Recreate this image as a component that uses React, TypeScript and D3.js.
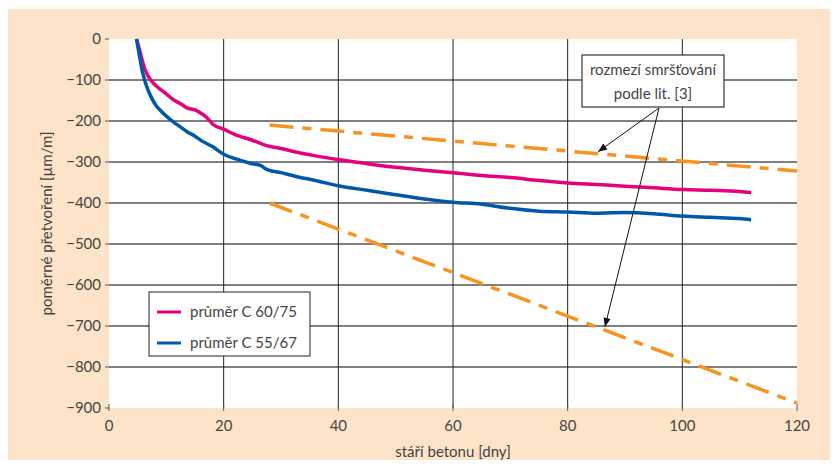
import * as d3 from "d3";
import React from "react";

const width = 838;
const height = 468;
const margin = { top: 39, right: 41, bottom: 60, left: 109 };

// stáří betonu [dny] vs. poměrné přetvoření [µm/m]
const pinkX = [4.8, 5.3, 5.8, 6.3, 6.8, 7.4, 8.2, 8.9, 10, 11.2, 12.5, 13.6, 15, 15.9, 17, 18.1, 20, 22, 25, 27.5, 30, 33, 36, 40, 45, 50, 55, 60, 65, 70, 75, 80, 85, 90, 95, 100, 105, 110, 112];
const pinkY = [0, -25, -52, -75, -90, -102, -114, -122, -134, -148, -158, -168, -173, -180, -191, -208, -220, -233, -247, -260, -267, -277, -285, -294, -304, -313, -320, -326, -333, -338, -345, -351, -355, -359, -363, -367, -369, -372, -375];

const blueX = [4.8, 5.3, 5.8, 6.3, 6.8, 7.4, 8.2, 8.9, 10, 11.2, 12.5, 13.6, 15, 15.9, 18.1, 20, 22, 24.6, 26.5, 27.5, 30, 32.8, 36, 40, 45, 50, 55, 60, 65, 70, 75, 80, 85, 90, 95, 100, 105, 110, 112];
const blueY = [0, -40, -78, -104, -124, -143, -162, -173, -188, -202, -215, -226, -237, -246, -263, -281, -292, -303, -309, -318, -326, -336, -345, -358, -369, -380, -390, -398, -403, -413, -420, -422, -425, -423, -426, -432, -435, -438, -441];

const upperX = [28, 120];
const upperY = [-210, -322];
const lowerX = [28, 120];
const lowerY = [-400, -888];

const xTicks = [0, 20, 40, 60, 80, 100, 120];
const yTicks = [0, -100, -200, -300, -400, -500, -600, -700, -800, -900];

const pink = "#e5007d";
const blue = "#0059a8";
const orange = "#f7931e";
const textColor = "#444";
const font = "Lato, 'Open Sans', sans-serif";
const fs = 15;

const App = () => {
  const x = d3.scaleLinear().domain([0, 120]).range([margin.left, width - margin.right]);
  const y = d3.scaleLinear().domain([0, -900]).range([margin.top, height - margin.bottom]);

  const line = d3
    .line<[number, number]>()
    .x((d) => x(d[0]))
    .y((d) => y(d[1]));
  const curve = d3
    .line<[number, number]>()
    .x((d) => x(d[0]))
    .y((d) => y(d[1]))
    .curve(d3.curveMonotoneX);

  const pinkPts = pinkX.map((v, i) => [v, pinkY[i]] as [number, number]);
  const bluePts = blueX.map((v, i) => [v, blueY[i]] as [number, number]);
  const upperPts = upperX.map((v, i) => [v, upperY[i]] as [number, number]);
  const lowerPts = lowerX.map((v, i) => [v, lowerY[i]] as [number, number]);

  const plotW = x(120) - x(0);
  const plotH = y(-900) - y(0);

  // arrows from annotation box
  const arrowStart = { x: 659, y: 108 };
  const arrow1End = { x: x(85.3), y: y(-275) };
  const arrow2End = { x: x(86.5), y: y(-702) };

  return (
    <div style={{ margin: -8 }}>
      <svg width={width} height={height} style={{ display: "block" }}>
        <defs>
          <marker id="ah" viewBox="0 0 10 10" refX="10" refY="5" markerWidth="9" markerHeight="9" orient="auto-start-reverse" markerUnits="userSpaceOnUse">
            <path d="M0,1 L10,5 L0,9 z" fill="#111" />
          </marker>
        </defs>
        <rect x={7} y={9} width={width - 7} height={height - 9} fill="#fde4c9" />
        <rect x={x(0)} y={y(0)} width={plotW} height={plotH} fill="#fff" />

        {/* horizontal grid */}
        {yTicks.map((t) => (
          <g key={"y" + t}>
            {t !== 0 && t !== -900 && (
              <line x1={x(0)} x2={x(120)} y1={y(t)} y2={y(t)} stroke="#555" strokeWidth={1.3} />
            )}
            <line x1={x(0) - 4} x2={x(0)} y1={y(t)} y2={y(t)} stroke="#555" strokeWidth={1} />
            <text x={x(0) - 8} y={y(t)} dy="0.35em" textAnchor="end" fontFamily={font} fontSize={fs} fill={textColor}>
              {t === 0 ? "0" : "\u2212" + Math.abs(t)}
            </text>
          </g>
        ))}
        {/* vertical grid */}
        {xTicks.map((t) => (
          <g key={"x" + t}>
            {t !== 0 && t !== 120 && (
              <line x1={x(t)} x2={x(t)} y1={y(0)} y2={y(-900)} stroke="#222" strokeWidth={1} />
            )}
            <line x1={x(t)} x2={x(t)} y1={y(-900) - 4} y2={y(-900) + 3} stroke="#555" strokeWidth={1} />
            <text x={x(t)} y={y(-900) + 23} textAnchor="middle" fontFamily={font} fontSize={fs} fill={textColor}>
              {t}
            </text>
          </g>
        ))}

        <path d={line(upperPts) || ""} fill="none" stroke={orange} strokeWidth={3.5} strokeDasharray="24,9,9,9" />
        <path d={line(lowerPts) || ""} fill="none" stroke={orange} strokeWidth={3.5} strokeDasharray="24,9,9,9" />

        <path d={curve(pinkPts) || ""} fill="none" stroke={pink} strokeWidth={3.5} strokeLinejoin="round" />
        <path d={curve(bluePts) || ""} fill="none" stroke={blue} strokeWidth={3.5} strokeLinejoin="round" />

        {/* annotation */}
        <line x1={arrowStart.x} y1={arrowStart.y} x2={arrow1End.x} y2={arrow1End.y} stroke="#111" strokeWidth={1} markerEnd="url(#ah)" />
        <line x1={arrowStart.x} y1={arrowStart.y} x2={arrow2End.x} y2={arrow2End.y} stroke="#111" strokeWidth={1} markerEnd="url(#ah)" />
        <rect x={582} y={55} width={142} height={52} fill="#fff" stroke="#333" strokeWidth={1.2} />
        <text x={653} y={75} textAnchor="middle" fontFamily={font} fontSize={fs} fill={textColor}>
          rozmezí smršťování
        </text>
        <text x={653} y={99} textAnchor="middle" fontFamily={font} fontSize={fs} fill={textColor}>
          podle lit. [3]
        </text>

        {/* legend */}
        <rect x={149} y={292} width={161} height={64} fill="#fff" stroke="#222" strokeWidth={1} />
        <line x1={157} x2={181} y1={312} y2={312} stroke={pink} strokeWidth={3} />
        <text x={190} y={312} dy="0.35em" fontFamily={font} fontSize={fs} fill={textColor}>
          průměr C 60/75
        </text>
        <line x1={157} x2={181} y1={343} y2={343} stroke={blue} strokeWidth={3} />
        <text x={190} y={343} dy="0.35em" fontFamily={font} fontSize={fs} fill={textColor}>
          průměr C 55/67
        </text>

        {/* axis titles */}
        <text x={(x(0) + x(120)) / 2} y={457} textAnchor="middle" fontFamily={font} fontSize={fs} fill={textColor}>
          stáří betonu [dny]
        </text>
        <text transform={`translate(52, ${(y(0) + y(-900)) / 2}) rotate(-90)`} textAnchor="middle" fontFamily={font} fontSize={fs} fill={textColor}>
          poměrné přetvoření [µm/m]
        </text>
      </svg>
    </div>
  );
};

export default App;
